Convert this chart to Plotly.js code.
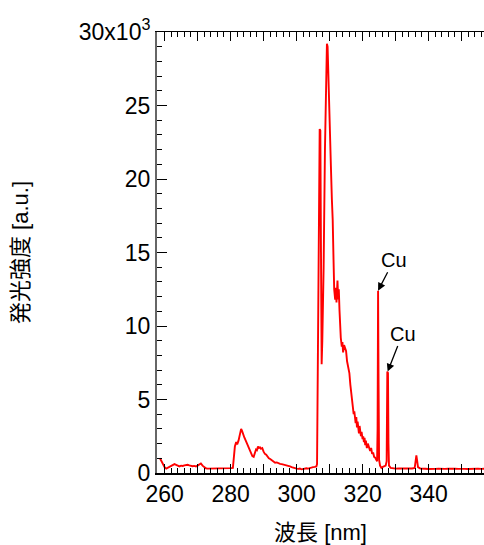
<!DOCTYPE html>
<html>
<head>
<meta charset="utf-8">
<script src="https://cdn.plot.ly/plotly-3.0.1.min.js"></script>
<style>html,body{margin:0;padding:0;background:#fff;}#chart{width:484px;height:545px;}</style>
</head>
<body>
<div id="chart"></div>
<script>
// Wavelength [nm]
const wavelength = [
  258.6,259.0,259.5,260.0,260.5,261.0,261.5,262.0,262.5,263.0,263.5,264.0,264.5,265.0,265.5,266.0,266.5,267.0,267.5,268.0,268.5,269.0,269.5,270.0,270.5,271.0,271.5,272.0,272.5,273.0,
  274.0,275.0,276.0,277.0,278.0,279.0,280.0,280.7,281.0,281.3,281.7,282.0,282.4,282.8,283.2,283.5,283.8,284.2,284.6,285.0,285.4,285.8,286.2,286.6,287.0,287.3,287.7,288.0,288.3,288.6,288.9,289.2,289.6,290.0,290.4,290.8,291.2,291.6,292.0,292.5,293.0,293.5,294.0,294.5,295.0,295.5,296.0,296.5,297.0,297.5,298.0,298.5,299.0,299.5,300.0,300.5,301.0,301.5,302.0,302.5,303.0,303.5,304.0,304.5,305.0,305.5,306.0,
  306.2,306.5,306.8,307.0,307.2,307.4,307.6,307.8,308.2,308.6,309.0,309.2,309.4,309.7,310.0,310.4,310.7,310.95,311.2,311.4,311.7,311.9,312.1,312.4,312.6,312.8,313.0,313.2,313.4,313.7,313.9,314.1,314.4,314.7,315.0,315.3,315.6,316.0,316.3,316.7,317.0,317.3,317.5,317.7,317.9,318.1,318.3,318.5,318.7,318.9,319.1,319.3,319.5,319.7,320.0,320.2,320.4,320.6,320.8,321.0,321.3,321.6,321.8,322.0,322.3,322.6,322.9,323.2,323.5,323.8,324.1,324.4,
  324.55,324.7,324.85,325.0,325.3,325.7,326.0,326.5,327.0,327.3,327.5,327.7,327.85,328.0,328.5,329.0,330.0,331.0,332.0,333.0,334.0,335.0,335.8,336.1,336.3,336.5,336.8,337.5,338.0,339.0,340.0,341.0,342.0,343.0,344.0,345.0,346.0,347.0,348.0,349.0,350.0,351.0,352.0,353.0,354.0,355.0,356.0,356.8
];
// Emission intensity [a.u.]
const intensity = [
  1000,800,550,400,300,350,450,450,550,600,550,500,450,500,480,520,550,560,520,480,460,480,450,500,600,650,500,400,320,300,
  300,310,290,300,280,320,330,350,900,1800,2100,1950,2200,2700,3000,2850,2600,2400,2200,2000,1800,1600,1350,1150,1100,1300,1600,1550,1800,1700,1750,1650,1700,1450,1300,1250,1100,1000,950,850,800,700,720,650,620,600,580,550,500,480,450,400,350,320,300,280,300,250,280,300,320,300,350,380,400,420,450,
  600,8000,18000,23400,23300,15000,7400,9000,14000,22000,28500,29200,29000,26000,23000,20900,18600,17200,14500,12500,11800,12600,11600,13100,11800,12500,11100,10000,9200,8600,8900,8200,8700,8500,8300,7600,7300,6800,6000,5000,4500,4000,4200,3700,3400,3800,3100,3500,3000,2700,3200,2600,2500,2800,2300,2500,2100,2400,1900,2200,1700,2000,1850,1600,1500,1700,1300,1400,1100,1050,900,800,
  3000,12400,6000,900,500,350,400,450,500,800,6900,6800,2000,500,350,320,300,310,300,290,300,310,350,900,1200,900,400,300,280,290,270,300,280,290,270,280,300,270,290,280,300,280,270,290,280,300,280,290
];
const yTickVals = [0,5000,10000,15000,20000,25000,30000];
const yTickText = ["0","5","10","15","20","25","30x10<sup>3</sup>"];
const xLabelVals = [260,280,300,320,340];
const xMidTickVals = [270,290,310,330,350];
const cuPeaks = [{x:324.7, y:12400, label:"Cu"}, {x:327.6, y:6900, label:"Cu"}];

const font = "Liberation Sans, Arial, 'Noto Sans CJK JP', sans-serif";
const xRange = [257.7, 356.8];
const trace = {
  x: wavelength, y: intensity, type: 'scatter', mode: 'lines',
  line: {color: '#ff0000', width: 1.9}, hoverinfo: 'skip'
};
// invisible helper trace on the overlay axis so its ticks render
const helper = {x: [xRange[0]], y: [0], xaxis: 'x2', yaxis: 'y', mode: 'markers',
  marker: {opacity: 0}, hoverinfo: 'skip'};
const layout = {
  width: 484, height: 545,
  margin: {l: 157, r: 0, t: 32, b: 72},
  paper_bgcolor: '#fff', plot_bgcolor: '#fff',
  showlegend: false,
  font: {family: font, size: 23, color: '#000'},
  xaxis: {
    range: xRange, showgrid: false, zeroline: false,
    tickmode: 'array', tickvals: xLabelVals,
    ticks: 'inside', ticklen: 9, tickwidth: 1, tickcolor: '#000',
    showline: true, linecolor: '#000', linewidth: 1.5, mirror: 'ticks',
    minor: {dtick: 2, ticks: 'inside', ticklen: 5, tickcolor: '#000', tickwidth: 1},
    tickfont: {size: 23, family: font},
    title: {text: '波長 [nm]', font: {size: 22, family: font}, standoff: 22}
  },
  xaxis2: {
    overlaying: 'x', side: 'bottom', anchor: 'y', range: xRange,
    showgrid: false, zeroline: false, showline: false, showticklabels: false,
    tickmode: 'array', tickvals: xMidTickVals,
    ticks: 'inside', ticklen: 9, tickwidth: 1, tickcolor: '#000', mirror: 'ticks'
  },
  yaxis: {
    range: [0, 30000], showgrid: false, zeroline: false,
    tickmode: 'array', tickvals: yTickVals, ticktext: yTickText,
    ticks: 'inside', ticklen: 10, tickwidth: 1, tickcolor: '#000',
    showline: true, linecolor: '#666', linewidth: 2,
    minor: {dtick: 1000, ticks: 'inside', ticklen: 5, tickcolor: '#000', tickwidth: 1},
    tickfont: {size: 23, family: font},
    title: {text: '発光強度 [a.u.]', font: {size: 22, family: font}, standoff: 44}
  },
  annotations: cuPeaks.map((p, i) => ({
    x: p.x, y: p.y, xref: 'x', yref: 'y', text: p.label,
    showarrow: true, arrowhead: 2, arrowsize: 1.2, arrowwidth: 1.3, arrowcolor: '#000',
    ax: i === 0 ? 16 : 15, ay: i === 0 ? -31 : -38,
    font: {size: 20, family: font, color: '#000'}
  }))
};
Plotly.newPlot('chart', [trace, helper], layout, {displayModeBar: false, staticPlot: true});
</script>
</body>
</html>
